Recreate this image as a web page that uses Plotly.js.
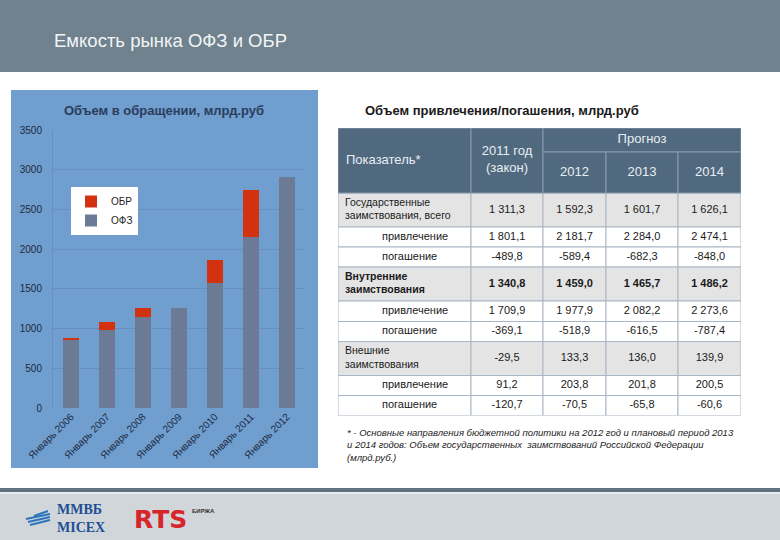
<!DOCTYPE html>
<html><head><meta charset="utf-8">
<script src="https://cdn.plot.ly/plotly-3.0.1.min.js"></script>
<style>html,body{margin:0;padding:0;background:#fff}#chart{width:780px;height:540px}</style>
</head><body><div id="chart"></div>
<script>
// ---- chart data ----
const categories = ['Январь 2006','Январь 2007','Январь 2008','Январь 2009','Январь 2010','Январь 2011','Январь 2012'];
const ofzValues = [855, 985, 1145, 1255, 1575, 2155, 2910];
const obrValues = [28, 100, 115, 0, 285, 590, 0];
const yTicks = [0, 500, 1000, 1500, 2000, 2500, 3000, 3500];

// ---- table data ----
const tableHeaders = ['Показатель*', '2011 год<br>(закон)', '2012', '2013', '2014'];
const forecastLabel = 'Прогноз';
const rowLabels = ['Государственные<br>заимствования, всего','привлечение','погашение',
  'Внутренние<br>заимствования','привлечение','погашение',
  'Внешние<br>заимствования','привлечение','погашение'];
const values2011 = ['1 311,3','1 801,1','-489,8','1 340,8','1 709,9','-369,1','-29,5','91,2','-120,7'];
const values2012 = ['1 592,3','2 181,7','-589,4','1 459,0','1 977,9','-518,9','133,3','203,8','-70,5'];
const values2013 = ['1 601,7','2 284,0','-682,3','1 465,7','2 082,2','-616,5','136,0','201,8','-65,8'];
const values2014 = ['1 626,1','2 474,1','-848,0','1 486,2','2 273,6','-787,4','139,9','200,5','-60,6'];
const groupRows = [0, 3, 6];
const boldRows = [3];

// ---- layout helpers ----
const W = 780, H = 540;
const px = x => x / W;
const py = y => 1 - y / H;
const FONT = 'Liberation Sans, Arial, sans-serif';

const colWidths = [133, 72, 63, 72, 63];
const tableLeft = 338, headTop = 128, headMid = 152, headBottom = 193;
const rowHeights = [34, 20, 20, 34, 20.5, 20, 34, 20, 20];
const colEdges = [tableLeft];
colWidths.forEach(w => colEdges.push(colEdges[colEdges.length - 1] + w));
const rowEdges = [headBottom];
rowHeights.forEach(h => rowEdges.push(rowEdges[rowEdges.length - 1] + h));
const tableRight = colEdges[colEdges.length - 1];
const tableBottom = rowEdges[rowEdges.length - 1];
const colCenter = i => (colEdges[i] + colEdges[i + 1]) / 2;
const rowCenter = r => (rowEdges[r] + rowEdges[r + 1]) / 2;

const shapes = [];
const annotations = [];

// slide header band
shapes.push({type:'rect', xref:'paper', yref:'paper', x0:0, x1:1, y0:py(72), y1:1, fillcolor:'#6f828d', line:{width:0}, layer:'below'});
// footer
shapes.push({type:'rect', xref:'paper', yref:'paper', x0:0, x1:1, y0:0, y1:py(492), fillcolor:'#d0d6d9', line:{width:0}, layer:'below'});
shapes.push({type:'rect', xref:'paper', yref:'paper', x0:0, x1:1, y0:py(492), y1:py(488), fillcolor:'#5e737e', line:{width:0}, layer:'below'});
shapes.push({type:'rect', xref:'paper', yref:'paper', x0:0, x1:1, y0:py(494), y1:py(492), fillcolor:'#e6ecef', line:{width:0}, layer:'below'});
// chart panel
shapes.push({type:'rect', xref:'paper', yref:'paper', x0:px(11), x1:px(318), y0:py(468), y1:py(90), fillcolor:'#6f9ecf', line:{width:0}, layer:'below'});

// table cells
const valueCols = [values2011, values2012, values2013, values2014];
rowHeights.forEach((h, r) => {
  const fill = groupRows.includes(r) ? '#e4e4e4' : '#ffffff';
  for (let c = 0; c < colWidths.length; c++) {
    shapes.push({type:'rect', xref:'x2', yref:'y2', x0:colEdges[c], x1:colEdges[c+1], y0:rowEdges[r], y1:rowEdges[r+1],
      fillcolor:fill, line:{color:'#aab6c3', width:1}, layer:'below'});
  }
});
// header cells
shapes.push({type:'rect', xref:'x2', yref:'y2', x0:colEdges[0], x1:colEdges[1], y0:headTop, y1:headBottom, fillcolor:'#51697f', line:{color:'#8a9bad', width:1}, layer:'below'});
shapes.push({type:'rect', xref:'x2', yref:'y2', x0:colEdges[1], x1:colEdges[2], y0:headTop, y1:headBottom, fillcolor:'#51697f', line:{color:'#8a9bad', width:1}, layer:'below'});
shapes.push({type:'rect', xref:'x2', yref:'y2', x0:colEdges[2], x1:colEdges[5], y0:headTop, y1:headMid, fillcolor:'#51697f', line:{color:'#8a9bad', width:1}, layer:'below'});
for (let c = 2; c < 5; c++) {
  shapes.push({type:'rect', xref:'x2', yref:'y2', x0:colEdges[c], x1:colEdges[c+1], y0:headMid, y1:headBottom, fillcolor:'#51697f', line:{color:'#8a9bad', width:1}, layer:'below'});
}

// table text as a text trace through the x2/y2 axes
const tx = [], ty = [], tt = [], tpos = [], tsize = [], tcolor = [];
tx.push(colEdges[0] + 8); ty.push((headTop + headBottom) / 2); tt.push(tableHeaders[0]); tpos.push('middle right'); tsize.push(13); tcolor.push('#e8eef3');
tx.push(colCenter(1)); ty.push((headTop + headBottom) / 2); tt.push(tableHeaders[1]); tpos.push('middle center'); tsize.push(13); tcolor.push('#e8eef3');
tx.push((colEdges[2] + colEdges[5]) / 2); ty.push((headTop + headMid) / 2); tt.push(forecastLabel); tpos.push('middle center'); tsize.push(13); tcolor.push('#e8eef3');
for (let c = 2; c < 5; c++) {
  tx.push(colCenter(c)); ty.push((headMid + headBottom) / 2); tt.push(tableHeaders[c]); tpos.push('middle center'); tsize.push(13); tcolor.push('#e8eef3');
}
rowLabels.forEach((lab, r) => {
  const isGroup = groupRows.includes(r);
  const bold = boldRows.includes(r);
  tx.push(colEdges[0] + (isGroup ? 7 : 44)); ty.push(rowCenter(r));
  tt.push(bold ? '<b>' + lab + '</b>' : lab); tpos.push('middle right'); tsize.push(isGroup ? 10.5 : 11); tcolor.push('#1a1a1a');
  valueCols.forEach((col, c) => {
    tx.push(colCenter(c + 1)); ty.push(rowCenter(r));
    tt.push(bold ? '<b>' + col[r] + '</b>' : col[r]); tpos.push('middle center'); tsize.push(11); tcolor.push('#1a1a1a');
  });
});

const tableText = {
  type:'scatter', mode:'text', x:tx, y:ty, text:tt, textposition:tpos,
  textfont:{family:FONT, size:tsize, color:tcolor},
  xaxis:'x2', yaxis:'y2', showlegend:false, hoverinfo:'skip', cliponaxis:false
};

// titles / texts
annotations.push({xref:'paper', yref:'paper', x:px(52), y:py(40), xanchor:'left', yanchor:'middle', showarrow:false,
  text:'Емкость рынка ОФЗ и ОБР',
  font:{family:FONT, size:18.5, color:'#f2f5f7'}});
annotations.push({xref:'paper', yref:'paper', x:px(164), y:py(110), xanchor:'center', yanchor:'middle', showarrow:false,
  text:'<b>Объем в обращении, млрд.руб</b>', font:{family:FONT, size:13, color:'#2b3d5a'}});
annotations.push({xref:'paper', yref:'paper', x:px(363), y:py(111), xanchor:'left', yanchor:'middle', showarrow:false,
  text:'<b>Объем привлечения/погашения, млрд.руб</b>', font:{family:FONT, size:13, color:'#1a1a1a'}});
annotations.push({xref:'paper', yref:'paper', x:px(345), y:py(445), xanchor:'left', yanchor:'middle', align:'left', showarrow:false,
  text:'<i>* - Основные направления бюджетной политики на 2012 год и плановый период 2013<br>и 2014 годов: Объем государственных  заимствований Российской Федерации<br>(млрд.руб.)</i>',
  font:{family:FONT, size:9.5, color:'#222222'}});
// logos
annotations.push({xref:'paper', yref:'paper', x:px(55), y:py(518), xanchor:'left', yanchor:'middle', align:'left', showarrow:false,
  text:'<b>ММВБ<br>MICEX</b>', font:{family:'Liberation Serif, DejaVu Serif, serif', size:14, color:'#1f4f95'}});
annotations.push({xref:'paper', yref:'paper', x:px(132), y:py(519), xanchor:'left', yanchor:'middle', showarrow:false,
  text:'<b>RTS</b>', font:{family:'DejaVu Sans, sans-serif', size:25, color:'#d7252b'}});
annotations.push({xref:'paper', yref:'paper', x:px(190), y:py(511), xanchor:'left', yanchor:'middle', showarrow:false,
  text:'<b>БИРЖА</b>', font:{family:FONT, size:6, color:'#333'}});
[[26,519,50,514],[28,522,50,517],[30,525,50,520],[34,516,48,511]].forEach(s => {
  shapes.push({type:'line', xref:'paper', yref:'paper', x0:px(s[0]), y0:py(s[1]), x1:px(s[2]), y1:py(s[3]), line:{color:'#2d74ba', width:2}});
});

const data = [
  {type:'bar', name:'ОФЗ', x:categories, y:ofzValues, marker:{color:'#6b7b96'}, hoverinfo:'x+y+name'},
  {type:'bar', name:'ОБР', x:categories, y:obrValues, marker:{color:'#d2320f'}, hoverinfo:'x+y+name'},
  tableText
];

const layout = {
  width:W, height:H, margin:{l:0, r:0, t:0, b:0},
  paper_bgcolor:'#ffffff', plot_bgcolor:'rgba(0,0,0,0)',
  barmode:'stack', bargap:0.58,
  font:{family:FONT},
  xaxis:{domain:[px(53), px(305)], tickangle:-45, tickfont:{size:10, color:'#1e2b40', family:FONT},
    showgrid:false, showline:false, ticks:'', fixedrange:true},
  yaxis:{domain:[py(408), py(130)], range:[0, 3500], tickvals:yTicks, tickfont:{size:10, color:'#1e2b40', family:FONT},
    showgrid:true, gridcolor:'#6590c0', gridwidth:1, zeroline:false, showline:true, linecolor:'#6590c0',
    ticks:'', ticklabelstandoff:8, fixedrange:true},
  xaxis2:{domain:[px(tableLeft), px(tableRight)], range:[tableLeft, tableRight], anchor:'y2', visible:false, fixedrange:true},
  yaxis2:{domain:[py(tableBottom), py(headTop)], range:[tableBottom, headTop], anchor:'x2', visible:false, fixedrange:true},
  showlegend:true,
  legend:{x:px(71), y:py(187), xanchor:'left', yanchor:'top', bgcolor:'#ffffff', borderwidth:0,
    font:{size:10, color:'#222', family:FONT}, itemwidth:30, tracegroupgap:0},
  shapes:shapes, annotations:annotations
};

Plotly.newPlot('chart', data, layout, {displayModeBar:false, staticPlot:true});
</script>
</body></html>
